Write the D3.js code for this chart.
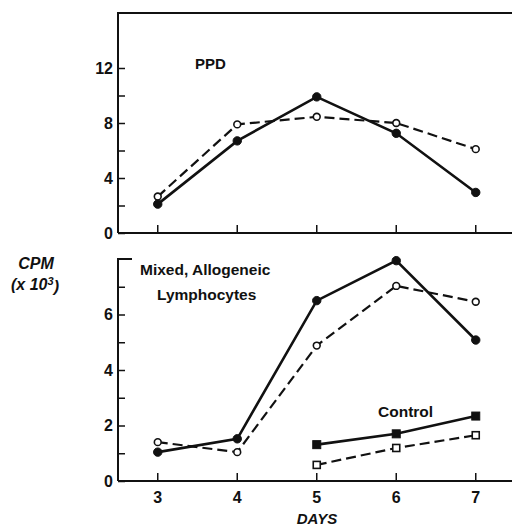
<!DOCTYPE html>
<html>
<head>
<meta charset="utf-8">
<script src="https://cdn.jsdelivr.net/npm/d3@7"></script>
<style>
  body { margin: 0; background: #fff; }
  text { font-family: "Liberation Sans", Arial, sans-serif; fill: #111; }
</style>
</head>
<body>
<svg id="chart" width="512" height="528"></svg>
<script>
// jours (axe x)
const days = [3, 4, 5, 6, 7];
const controlDays = [5, 6, 7];

// panneau PPD
const ppdFilled = [2.1, 6.7, 9.9, 7.25, 2.95];
const ppdOpen = [2.65, 7.9, 8.45, 8.0, 6.1];

// panneau lymphocytes allogeniques
const mixFilled = [1.04, 1.52, 6.5, 7.94, 5.08];
const mixOpen = [1.4, 1.04, 4.88, 7.03, 6.46];
const ctrlFilled = [1.31, 1.7, 2.34];
const ctrlOpen = [0.58, 1.19, 1.65];

const topTicks = [0, 4, 8, 12];
const topMinor = [2, 6, 10];
const botTicks = [0, 2, 4, 6];
const botMinor = [1, 3, 5, 7];

const svg = d3.select("#chart");
const ink = "#111";

const x = d3.scaleLinear().domain([2.5, 7.5]).range([118, 515.5]);
const yTop = d3.scaleLinear().domain([0, 16]).range([233, 13]);
const yBot = d3.scaleLinear().domain([0, 8]).range([481, 259]);

function drawPanel(y, ticks, minor, withLabels) {
    const g = svg.append("g");
    // axe y
    g.append("g")
        .attr("transform", "translate(118,0)")
        .call(d3.axisRight(y).tickValues(ticks.concat(minor)).tickSize(7).tickFormat(""))
        .call(a => a.select(".domain").remove())
        .selectAll("line").attr("stroke", ink).attr("stroke-width", 1.5);
    g.append("line")
        .attr("x1", 118).attr("x2", 118)
        .attr("y1", y.range()[1]).attr("y2", y.range()[0])
        .attr("stroke", ink).attr("stroke-width", 2);
    ticks.forEach(t => {
        g.append("text")
            .attr("x", 113).attr("y", y(t))
            .attr("dy", "0.36em")
            .attr("text-anchor", "end")
            .attr("font-size", 16).attr("font-weight", "bold")
            .text(t);
    });
    // axe x
    g.append("line")
        .attr("x1", 118).attr("x2", 512)
        .attr("y1", y(0)).attr("y2", y(0))
        .attr("stroke", ink).attr("stroke-width", 2);
    days.forEach(d => {
        g.append("line")
            .attr("x1", x(d)).attr("x2", x(d))
            .attr("y1", y(0)).attr("y2", y(0) - 8)
            .attr("stroke", ink).attr("stroke-width", 1.5);
        if (withLabels) {
            g.append("text")
                .attr("x", x(d)).attr("y", y(0) + 16)
                .attr("dy", "0.36em")
                .attr("text-anchor", "middle")
                .attr("font-size", 16).attr("font-weight", "bold")
                .text(d);
        }
    });
    return g;
}

function drawSeries(g, y, xs, vals, dashed, shape, filled) {
    const pts = xs.map((d, i) => [x(d), y(vals[i])]);
    g.append("path")
        .attr("d", d3.line()(pts))
        .attr("fill", "none")
        .attr("stroke", ink)
        .attr("stroke-width", dashed ? 2.2 : 2.6)
        .attr("stroke-dasharray", dashed ? "10,5" : null);
    if (shape === "circle") {
        g.selectAll(null).data(pts).join("circle")
            .attr("cx", p => p[0]).attr("cy", p => p[1])
            .attr("r", filled ? 4.2 : 3.4)
            .attr("fill", filled ? ink : "#fff")
            .attr("stroke", ink).attr("stroke-width", filled ? 1 : 1.6);
    } else {
        const s = filled ? 8 : 7;
        g.selectAll(null).data(pts).join("rect")
            .attr("x", p => p[0] - s / 2).attr("y", p => p[1] - s / 2)
            .attr("width", s).attr("height", s)
            .attr("fill", filled ? ink : "#fff")
            .attr("stroke", ink).attr("stroke-width", filled ? 1 : 1.6);
    }
}

// panneau du haut
const gTop = drawPanel(yTop, topTicks, topMinor, false);
gTop.append("line")
    .attr("x1", 117).attr("x2", 512)
    .attr("y1", yTop(16)).attr("y2", yTop(16))
    .attr("stroke", ink).attr("stroke-width", 2);
drawSeries(gTop, yTop, days, ppdOpen, true, "circle", false);
drawSeries(gTop, yTop, days, ppdFilled, false, "circle", true);
gTop.append("text").attr("x", 195).attr("y", 64).attr("dy", "0.36em")
    .attr("font-size", 15).attr("font-weight", "bold").text("PPD");

// panneau du bas
const gBot = drawPanel(yBot, botTicks, botMinor, true);
gBot.append("line")
    .attr("x1", 117).attr("x2", 132)
    .attr("y1", yBot(8)).attr("y2", yBot(8))
    .attr("stroke", ink).attr("stroke-width", 2);
drawSeries(gBot, yBot, days, mixOpen, true, "circle", false);
drawSeries(gBot, yBot, days, mixFilled, false, "circle", true);
drawSeries(gBot, yBot, controlDays, ctrlOpen, true, "square", false);
drawSeries(gBot, yBot, controlDays, ctrlFilled, false, "square", true);

gBot.append("text").attr("x", 140).attr("y", 269).attr("dy", "0.36em")
    .attr("font-size", 15.5).attr("font-weight", "bold").text("Mixed, Allogeneic");
gBot.append("text").attr("x", 157).attr("y", 294).attr("dy", "0.36em")
    .attr("font-size", 15.5).attr("font-weight", "bold").text("Lymphocytes");
gBot.append("text").attr("x", 378).attr("y", 411).attr("dy", "0.36em")
    .attr("font-size", 15.5).attr("font-weight", "bold").text("Control");

// titres des axes
svg.append("text").attr("x", 317).attr("y", 519).attr("dy", "0.36em")
    .attr("text-anchor", "middle")
    .attr("font-size", 15).attr("font-weight", "bold").attr("font-style", "italic")
    .text("DAYS");
svg.append("text").attr("x", 36).attr("y", 263).attr("dy", "0.36em")
    .attr("text-anchor", "middle")
    .attr("font-size", 16).attr("font-weight", "bold").attr("font-style", "italic")
    .text("CPM");
const sub = svg.append("text").attr("x", 35).attr("y", 284).attr("dy", "0.36em")
    .attr("text-anchor", "middle")
    .attr("font-size", 16).attr("font-weight", "bold").attr("font-style", "italic");
sub.append("tspan").text("(x 10");
sub.append("tspan").attr("dy", "-0.4em").attr("font-size", 11).text("3");
sub.append("tspan").attr("dy", "0.4em").text(")");
</script>
</body>
</html>
